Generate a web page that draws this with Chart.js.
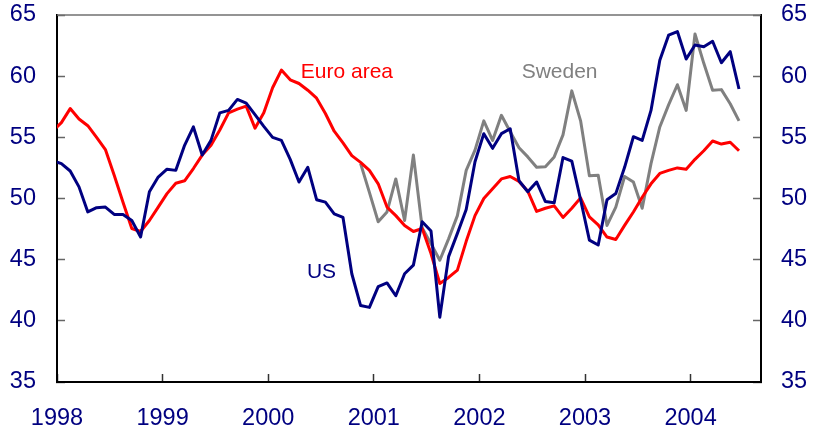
<!DOCTYPE html>
<html>
<head>
<meta charset="utf-8">
<script src="https://cdn.jsdelivr.net/npm/chart.js@4.4.1/dist/chart.umd.min.js"></script>
<style>
  html, body { margin: 0; padding: 0; background: #ffffff; }
  #wrap { width: 814px; height: 434px; }
</style>
</head>
<body>
<div id="wrap"><canvas id="chart" width="814" height="434"></canvas></div>
<script>
// Monthly index values; month 0 = Jan 1998
const yearLabels = ["1998", "1999", "2000", "2001", "2002", "2003", "2004"];
const axisMin = 0;
const axisMax = 80;
const yTicks = [35, 40, 45, 50, 55, 60, 65];

// Dec 1997 .. Jun 2004
const mainStart = -1;
const euroArea = [
  55.5, 56.2, 57.35, 56.5, 55.95, 55.0, 54.0, 51.9, 49.7, 47.55, 47.3, 48.2, 49.3,
  50.4, 51.25, 51.45, 52.45, 53.55, 54.35, 55.6, 57.0, 57.3, 57.55, 55.75, 57.0,
  59.05, 60.5, 59.7, 59.4, 58.85, 58.2, 56.95, 55.5, 54.55, 53.5, 52.95, 52.3,
  51.2, 49.3, 48.6, 47.8, 47.3, 47.55, 45.5, 43.05, 43.55, 44.15, 46.5, 48.6,
  50.0, 50.8, 51.6, 51.8, 51.4, 50.6, 48.95, 49.2, 49.4, 48.45, 49.2, 50.05,
  48.5, 47.85, 46.85, 46.65, 47.8, 48.9, 50.1, 51.2, 52.05, 52.3, 52.5, 52.4,
  53.2, 53.9, 54.7, 54.45, 54.6, 53.9
];
const us = [
  53.1, 52.85, 52.25, 50.95, 48.9, 49.25, 49.3, 48.7, 48.7, 48.2, 46.85, 50.55, 51.75,
  52.4, 52.3, 54.35, 55.85, 53.55, 54.75, 57.0, 57.2, 58.1, 57.8, 56.85, 55.9,
  55.0, 54.75, 53.2, 51.35, 52.55, 49.9, 49.7, 48.75, 48.45, 43.85, 41.25, 41.1,
  42.8, 43.1, 42.05, 43.85, 44.55, 48.1, 47.35, 40.3, 45.25, 47.15, 49.1, 53.0,
  55.3, 54.1, 55.3, 55.7, 51.45, 50.55, 51.35, 49.75, 49.65, 53.35, 53.05, 49.9,
  46.6, 46.2, 49.9, 50.4, 52.55, 55.05, 54.75, 57.2, 61.3, 63.35, 63.65, 61.4,
  62.55, 62.4, 62.85, 61.1, 62.0, 58.95
];

// Nov 2000 .. Jun 2004
const swedenStart = 34;
const sweden = [
  52.85, 50.5, 48.1, 48.9, 51.6, 48.2, 53.55, 47.6, 46.3, 44.95, 46.7, 48.6,
  52.3, 53.95, 56.35, 54.75, 56.8, 55.45, 54.15, 53.4, 52.55, 52.6, 53.4, 55.2,
  58.8, 56.35, 51.85, 51.9, 47.8, 49.3, 51.8, 51.35, 49.2, 52.85, 55.85, 57.65,
  59.3, 57.2, 63.45, 61.05, 58.85, 58.9, 57.75, 56.35
];

const NAVY = "#000080";
const RED = "#ff0000";
const GREY = "#808080";
const FONT = "'Liberation Sans', Arial, sans-serif";

// plot each monthly value at the middle of its month
function toPoints(values, start) {
  return values.map((v, i) => ({ x: start + i + 0.5, y: v }));
}

// in-chart series names, placed in data units
const seriesNames = [
  { text: "Euro area", month: 27.7, value: 60.35, color: RED },
  { text: "Sweden", month: 52.8, value: 60.3, color: GREY },
  { text: "US", month: 28.4, value: 43.95, color: NAVY },
];

const framePlugin = {
  id: "frame",
  afterDatasetsDraw(chart) {
    const { ctx, chartArea, scales } = chart;
    ctx.save();
    // grey top border
    ctx.strokeStyle = "#707070";
    ctx.lineWidth = 1.5;
    ctx.beginPath();
    ctx.moveTo(chartArea.left, chartArea.top);
    ctx.lineTo(chartArea.right, chartArea.top);
    ctx.stroke();

    ctx.font = "21px " + FONT;
    ctx.textAlign = "left";
    ctx.textBaseline = "middle";
    seriesNames.forEach(n => {
      ctx.fillStyle = n.color;
      ctx.fillText(n.text, scales.x.getPixelForValue(n.month), scales.y.getPixelForValue(n.value));
    });
    ctx.restore();
  },
};

const yAxis = (position, width, padding) => ({
  position: position,
  min: 35,
  max: 65,
  afterBuildTicks: scale => { scale.ticks = yTicks.map(v => ({ value: v })); },
  afterFit: scale => {
    scale.width = width;
    scale.paddingTop = 0;
    scale.paddingBottom = 0;
  },
  grid: { drawOnChartArea: false, tickLength: -8, tickColor: "#666666", tickWidth: 1.5 },
  border: { display: true, color: "#000000", width: 2 },
  ticks: { color: NAVY, padding: padding, font: { family: FONT, size: 23.5 } },
});

new Chart(document.getElementById("chart"), {
  type: "line",
  data: {
    datasets: [
      { label: "US", data: toPoints(us, mainStart), borderColor: NAVY },
      { label: "Euro area", data: toPoints(euroArea, mainStart), borderColor: RED },
      { label: "Sweden", data: toPoints(sweden, swedenStart), borderColor: GREY },
    ].map(d => Object.assign(d, {
      borderWidth: 3,
      pointRadius: 0,
      tension: 0,
      fill: false,
      borderJoinStyle: "round",
    })),
  },
  options: {
    responsive: false,
    animation: false,
    layout: { padding: { top: 15, left: 0, right: 0, bottom: 0 } },
    plugins: {
      legend: { display: false },
      tooltip: { enabled: false },
    },
    scales: {
      x: {
        type: "linear",
        position: "bottom",
        min: axisMin,
        max: axisMax,
        afterBuildTicks: scale => {
          scale.ticks = yearLabels.map((_, i) => ({ value: i * 12 }));
        },
        afterFit: scale => {
          scale.height = 52;
          scale.paddingLeft = 0;
          scale.paddingRight = 0;
        },
        grid: { drawOnChartArea: false, tickLength: -8, tickColor: "#333333", tickWidth: 1.5 },
        border: { display: true, color: "#000000", width: 2 },
        ticks: {
          color: NAVY,
          padding: 30,
          maxRotation: 0,
          autoSkip: false,
          font: { family: FONT, size: 23.5 },
          callback: v => yearLabels[v / 12],
        },
      },
      y: yAxis("left", 57, 29),
      y2: yAxis("right", 53, 28),
    },
  },
  plugins: [framePlugin],
});
</script>
</body>
</html>
